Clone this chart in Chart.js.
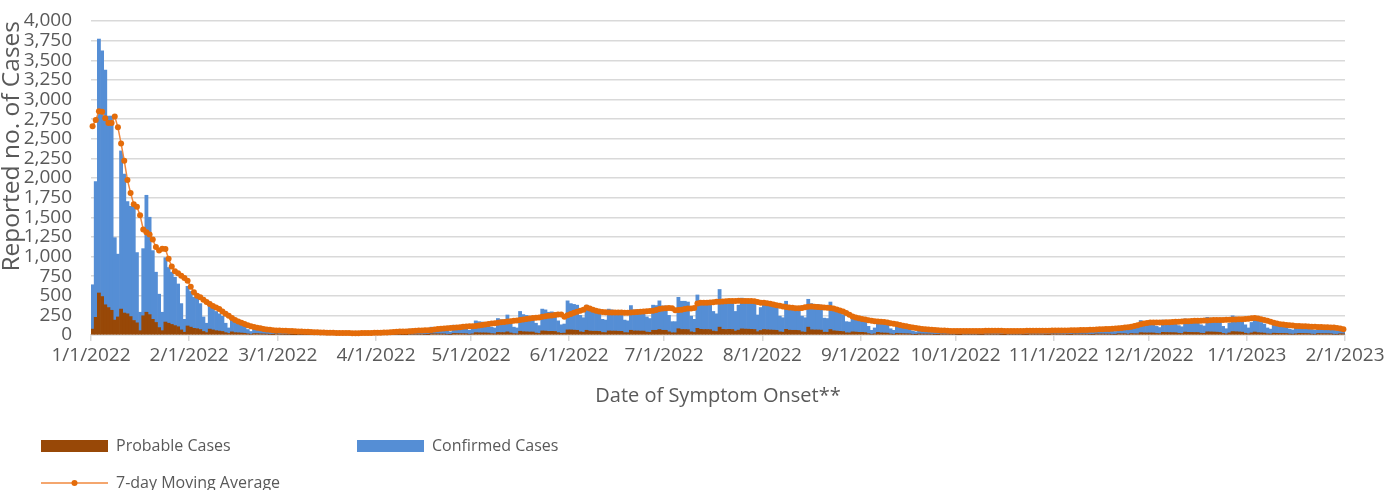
<!DOCTYPE html>
<html>
<head>
<meta charset="utf-8">
<title>Reported cases by date of symptom onset</title>
<script src="https://cdn.jsdelivr.net/npm/chart.js@4.4.0/dist/chart.umd.min.js"></script>
<style>
  body { margin: 0; background: #ffffff; }
  #wrap { width: 1397px; height: 490px; }
</style>
</head>
<body>
<div id="wrap"><canvas id="cases-chart"></canvas></div>
<script>
// month starts on the day axis (days after 1/1/2022) and their labels
const tickDays = [0, 31, 59, 90, 120, 151, 181, 212, 243, 273, 304, 334, 365, 396];
const tickLabels = [
  "1/1/2022", "2/1/2022", "3/1/2022", "4/1/2022", "5/1/2022", "6/1/2022", "7/1/2022",
  "8/1/2022", "9/1/2022", "10/1/2022", "11/1/2022", "12/1/2022", "1/1/2023", "2/1/2023",
];

// daily counts 1/1/2022 - 1/31/2023, one row per month
const probableCases = [
  75,225,535,490,385,350,315,190,230,330,280,270,235,185,155,55,245,290,260,200,160,95,55,165,150,135,120,105,65,35,115,
  100,85,80,70,45,30,75,65,55,50,45,30,20,40,30,28,25,22,15,10,18,18,15,14,12,8,6,15,
  10,9,8,8,5,3,8,7,6,6,5,3,2,6,5,5,4,4,2,2,5,5,5,5,4,3,2,6,6,5,5,
  6,4,3,9,9,8,8,7,5,3,12,11,11,10,10,7,5,16,15,15,14,14,9,7,20,19,18,17,16,10,
  15,30,28,27,27,25,17,15,33,31,30,40,26,17,15,48,42,40,38,38,25,20,52,50,46,47,45,30,22,24,65,
  65,62,60,40,35,60,50,48,48,46,32,30,52,50,50,48,47,30,29,60,52,52,50,50,37,34,60,60,70,60,
  60,40,28,28,80,70,70,68,40,33,85,72,70,70,68,50,45,100,72,70,72,70,50,62,78,75,74,72,70,42,58,
  70,66,64,62,60,40,36,72,62,60,60,58,40,36,100,66,64,64,62,36,35,70,54,50,47,44,28,27,40,37,34,
  34,30,18,10,15,34,27,25,24,14,10,22,19,17,16,15,9,7,14,13,12,12,11,7,6,12,11,11,10,10,
  6,5,12,11,10,10,10,7,6,13,12,11,10,10,6,5,12,11,11,10,10,7,6,13,12,11,11,10,7,6,13,
  12,11,11,10,7,6,13,12,12,12,11,8,7,14,13,13,12,12,9,8,17,16,16,10,19,16,15,30,27,26,
  27,26,20,17,34,32,31,30,29,22,19,37,34,33,32,32,23,21,40,39,38,36,33,20,14,27,44,41,39,36,23,
  15,27,38,30,27,24,15,13,23,21,20,20,19,13,11,15,21,20,19,18,12,10,20,18,17,17,16,10,9,16,15,
];

const confirmedCases = [
  565,1730,3235,3130,2990,2440,2475,1050,800,2015,1770,1430,1405,1445,895,235,855,1490,1240,875,640,425,235,820,710,665,615,545,335,165,505,
  455,395,390,330,185,120,345,295,245,220,195,120,70,160,130,112,105,98,55,35,72,72,60,56,45,27,19,65,
  50,46,42,40,23,15,42,38,34,30,27,15,10,32,28,23,21,18,10,7,27,25,25,23,22,12,10,34,30,29,27,
  29,18,13,46,43,42,39,37,23,17,63,59,57,55,50,33,25,84,80,77,76,71,43,33,105,99,94,91,86,50,
  75,150,142,138,133,125,83,75,177,164,160,215,134,83,75,252,218,210,202,197,125,100,278,270,244,248,240,150,108,116,370,
  335,328,320,210,185,320,260,252,252,244,168,160,278,270,260,252,248,160,151,315,268,268,265,260,193,176,320,315,365,310,
  310,210,142,142,400,360,360,352,200,167,425,368,360,360,352,250,225,480,368,360,368,360,250,318,392,385,376,368,360,213,292,
  350,334,326,318,310,200,184,358,308,300,300,292,200,184,355,334,326,326,318,179,175,350,266,250,233,216,142,138,195,183,166,
  166,150,92,50,75,166,133,125,116,66,50,108,91,83,79,75,41,33,71,62,58,56,54,33,29,58,54,51,50,48,
  29,25,53,49,48,46,44,31,26,57,52,49,48,45,30,25,56,51,49,47,45,31,27,59,54,51,49,48,33,29,62,
  53,51,49,48,35,30,62,58,56,54,53,36,31,68,65,62,60,58,41,36,83,79,76,50,91,79,75,155,133,129,
  123,119,90,78,156,143,139,135,131,98,86,168,156,152,148,143,107,94,185,176,172,164,152,90,66,123,201,189,176,164,107,
  75,133,192,150,133,116,75,62,112,104,100,95,91,62,54,75,104,95,91,87,58,50,95,87,83,81,79,50,43,79,70,
];

const movingAverage = [
  2660,2740,2850,2845,2760,2700,2700,2785,2645,2440,2220,1975,1810,1665,1635,1525,1345,1310,1280,1215,1120,1078,1098,1095,970,872,812,786,756,726,692,
  615,543,500,480,450,420,395,370,350,330,300,270,245,215,190,172,155,140,125,113,102,93,85,78,71,66,61,58,
  57,55,53,51,50,48,46,44,42,40,38,36,34,33,31,30,29,28,27,26,25,25,24,23,23,23,24,24,26,27,28,
  29,30,31,33,35,38,41,43,44,45,47,50,53,56,58,60,62,65,70,75,80,84,86,88,92,96,100,104,108,112,
  110,116,122,128,134,140,146,150,156,162,167,172,176,180,184,190,197,204,210,215,219,223,231,238,244,250,256,260,261,234,252,
  268,282,296,308,322,349,338,322,310,298,292,290,288,288,288,287,286,284,284,288,290,292,296,298,302,306,310,318,330,338,
  340,345,340,315,320,322,330,336,338,345,400,410,412,412,414,418,422,425,428,430,432,434,434,436,434,434,434,432,430,420,412,
  410,404,398,390,380,372,362,356,350,346,342,340,345,352,360,362,360,358,354,350,348,345,336,325,312,298,280,258,236,222,212,
  205,196,188,180,175,172,169,166,158,150,142,136,127,118,110,102,95,88,82,77,73,69,66,63,60,58,56,54,52,52,
  52,52,52,51,51,51,51,51,52,53,53,53,53,53,53,52,52,52,52,52,52,52,53,54,54,54,55,55,55,55,56,
  56,57,57,58,58,59,60,61,63,64,65,66,68,70,72,74,76,78,80,83,86,90,95,100,106,114,124,136,146,154,
  159,159,159,159,160,162,164,166,168,170,172,174,176,178,180,181,182,184,186,188,190,191,192,192,193,194,196,198,200,202,203,
  206,212,216,210,200,190,180,168,155,146,138,133,128,124,120,116,114,112,110,108,106,104,103,102,100,98,96,94,90,82,72,
];

document.addEventListener("DOMContentLoaded", () => {
  Chart.defaults.font.family = "'Open Sans', sans-serif";
  Chart.defaults.color = "#595959";

  // each day sits in the middle of its own slot on the linear day axis
  const toPoints = (values) => values.map((v, i) => ({ x: i + 0.5, y: v }));

  // legend laid out like the spreadsheet one: two columns, line series on a second row
  const sheetLegend = {
    id: "sheetLegend",
    afterDraw(chart) {
      const ctx = chart.ctx;
      const ds = chart.data.datasets;
      const spots = [
        { d: ds[0], x: 41, y: 446 },
        { d: ds[1], x: 357, y: 446 },
        { d: ds[2], x: 41, y: 483 },
      ];
      ctx.save();
      ctx.font = "16px 'Open Sans', sans-serif";
      ctx.textBaseline = "middle";
      spots.forEach(({ d, x, y }) => {
        if (d.type === "line") {
          ctx.strokeStyle = d.borderColor;
          ctx.lineWidth = 1.5;
          ctx.beginPath();
          ctx.moveTo(x, y);
          ctx.lineTo(x + 67, y);
          ctx.stroke();
          ctx.fillStyle = d.pointBackgroundColor;
          ctx.beginPath();
          ctx.arc(x + 33.5, y, 3, 0, Math.PI * 2);
          ctx.fill();
        } else {
          ctx.fillStyle = d.backgroundColor;
          ctx.fillRect(x, y - 6, 67, 12);
        }
        ctx.fillStyle = "#595959";
        ctx.fillText(d.label, x + 75, y);
      });
      ctx.restore();
    },
  };

  const ctx = document.getElementById("cases-chart").getContext("2d");

  new Chart(ctx, {
    type: "bar",
    data: {
      datasets: [
        {
          label: "Probable Cases",
          data: toPoints(probableCases),
          backgroundColor: "#984807",
          stack: "cases",
          order: 1,
          barPercentage: 1,
          categoryPercentage: 1,
          borderWidth: 0,
        },
        {
          label: "Confirmed Cases",
          data: toPoints(confirmedCases),
          backgroundColor: "#558ED5",
          stack: "cases",
          order: 1,
          barPercentage: 1,
          categoryPercentage: 1,
          borderWidth: 0,
        },
        {
          type: "line",
          label: "7-day Moving Average",
          data: toPoints(movingAverage),
          stack: "ma",
          order: 0,
          borderColor: "#F0883E",
          borderWidth: 1.5,
          pointRadius: 3,
          pointBorderWidth: 0,
          pointBackgroundColor: "#E46C0A",
          tension: 0,
          clip: false,
        },
      ],
    },
    options: {
      responsive: true,
      maintainAspectRatio: false,
      animation: false,
      layout: { padding: { top: 21, right: 52, bottom: 80, left: 0 } },
      plugins: {
        legend: { display: false },
        tooltip: { enabled: false },
      },
      scales: {
        x: {
          type: "linear",
          stacked: true,
          offset: false,
          min: 0,
          max: 396,
          afterBuildTicks: (scale) => {
            scale.ticks = tickDays.map((d) => ({ value: d }));
          },
          afterFit: (scale) => {
            scale.height = 75;
          },
          ticks: {
            autoSkip: false,
            maxRotation: 0,
            padding: 3,
            font: { size: 19 },
            callback: (value, index) => tickLabels[index],
          },
          grid: {
            offset: false,
            drawOnChartArea: false,
            tickLength: 6,
            color: "#d9d9d9",
            lineWidth: 1.5,
          },
          border: { color: "#d9d9d9", width: 1.5 },
          title: {
            display: true,
            text: "Date of Symptom Onset**",
            font: { size: 20 },
            padding: { top: 0, bottom: 2 },
          },
        },
        y: {
          stacked: true,
          min: 0,
          max: 4000,
          afterFit: (scale) => {
            scale.width = 91;
          },
          ticks: {
            stepSize: 250,
            autoSkip: false,
            padding: 0,
            font: { size: 19 },
            callback: (value) => value.toLocaleString("en-US"),
          },
          // invisible tick marks keep the labels clear of the plot
          grid: {
            color: "#d9d9d9",
            lineWidth: 1.5,
            drawTicks: true,
            tickLength: 19,
            tickColor: "rgba(0,0,0,0)",
          },
          border: { display: false },
          title: {
            display: true,
            text: "Reported no. of Cases",
            align: "end",
            font: { size: 24.5 },
            padding: { top: -3, bottom: 0 },
          },
        },
      },
    },
    plugins: [sheetLegend],
  });
});
</script>
</body>
</html>
